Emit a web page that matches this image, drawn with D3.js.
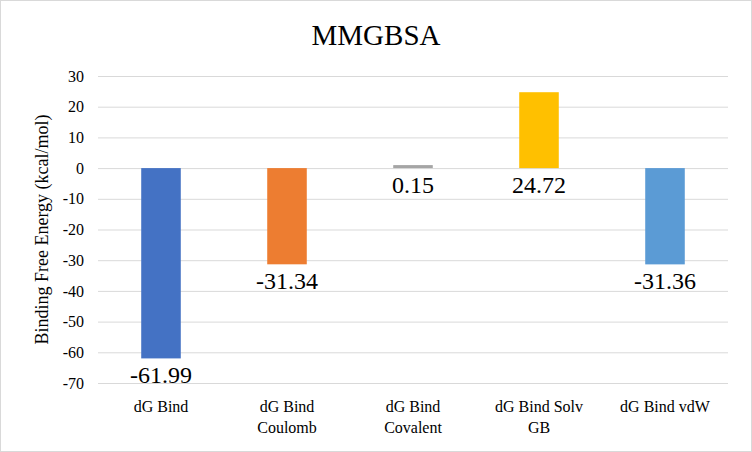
<!DOCTYPE html>
<html>
<head>
<meta charset="utf-8">
<script src="https://cdn.jsdelivr.net/npm/d3@7"></script>
<style>
  body { margin: 0; background: #fff; }
  svg text { font-family: "Liberation Serif", "Times New Roman", serif !important; }
</style>
</head>
<body>
<svg id="chart" width="752" height="452"></svg>
<script>
const categories = ["dG Bind", "dG Bind Coulomb", "dG Bind Covalent", "dG Bind Solv GB", "dG Bind vdW"];
const catLines = [["dG Bind"], ["dG Bind", "Coulomb"], ["dG Bind", "Covalent"], ["dG Bind Solv", "GB"], ["dG Bind vdW"]];
const values = [-61.99, -31.34, 0.15, 24.72, -31.36];
const colors = ["#4472C4", "#ED7D31", "#A5A5A5", "#FFC000", "#5B9BD5"];
const yTicks = [30, 20, 10, 0, -10, -20, -30, -40, -50, -60, -70];

const serif = "Liberation Serif, Times New Roman, serif";

const svg = d3.select("#chart"),
      width = +svg.attr("width"),
      height = +svg.attr("height"),
      margin = {top: 76, right: 24, bottom: 69, left: 98};

// outer border
svg.append("rect")
    .attr("x", 0.5).attr("y", 0.5)
    .attr("width", width - 1).attr("height", height - 1)
    .attr("fill", "#fff")
    .attr("stroke", "#d9d9d9");

const x = d3.scaleBand().domain(categories)
    .range([margin.left, width - margin.right])
    .paddingInner(0.686).paddingOuter(0.343);

const y = d3.scaleLinear().domain([-70, 30]).range([height - margin.bottom, margin.top]);

// gridlines + tick labels
const yAxis = d3.axisLeft(y)
    .tickValues(yTicks)
    .tickFormat(d => String(d))   // plain hyphen minus like the original
    .tickSize(-(width - margin.left - margin.right))
    .tickPadding(14);

const gy = svg.append("g")
    .attr("transform", `translate(${margin.left},0)`)
    .call(yAxis)
    .attr("font-family", serif)
    .attr("font-size", 16);
gy.select(".domain").remove();
gy.selectAll(".tick line").attr("stroke", "#d9d9d9");
gy.selectAll(".tick text").attr("fill", "#000");

// bars (tiny values still get a visible sliver, as in the original)
svg.selectAll(".bar")
    .data(values)
    .join("rect")
    .attr("x", (d, i) => x(categories[i]))
    .attr("width", x.bandwidth())
    .attr("y", d => d >= 0 ? Math.min(y(d), y(0) - 3) : y(0))
    .attr("height", d => Math.max(3, Math.abs(y(d) - y(0))))
    .attr("fill", (d, i) => colors[i]);

// value labels
svg.selectAll(".vlabel")
    .data(values)
    .join("text")
    .attr("x", (d, i) => x(categories[i]) + x.bandwidth() / 2)
    .attr("y", d => y(Math.min(0, d)) + 25)
    .attr("text-anchor", "middle")
    .attr("font-family", serif)
    .attr("font-size", 24)
    .attr("fill", "#000")
    .text(d => d.toFixed(2));

// category labels
const cat = svg.selectAll(".cat")
    .data(catLines)
    .join("text")
    .attr("text-anchor", "middle")
    .attr("font-family", serif)
    .attr("font-size", 16)
    .attr("fill", "#000")
    .attr("transform", (d, i) => `translate(${x(categories[i]) + x.bandwidth() / 2},${height - margin.bottom + 29})`);
cat.selectAll("tspan")
    .data(d => d)
    .join("tspan")
    .attr("x", 0)
    .attr("dy", (d, i) => i === 0 ? 0 : 21)
    .text(d => d);

// title
svg.append("text")
    .attr("x", width / 2)
    .attr("y", 45)
    .attr("text-anchor", "middle")
    .attr("font-family", serif)
    .attr("font-size", 29)
    .attr("fill", "#000")
    .text("MMGBSA");

// y axis label
svg.append("text")
    .attr("transform", "rotate(-90)")
    .attr("x", -(margin.top + (height - margin.bottom)) / 2)
    .attr("y", 48)
    .attr("text-anchor", "middle")
    .attr("font-family", serif)
    .attr("font-size", 18)
    .attr("fill", "#000")
    .text("Binding Free Energy (kcal/mol)");
</script>
</body>
</html>
